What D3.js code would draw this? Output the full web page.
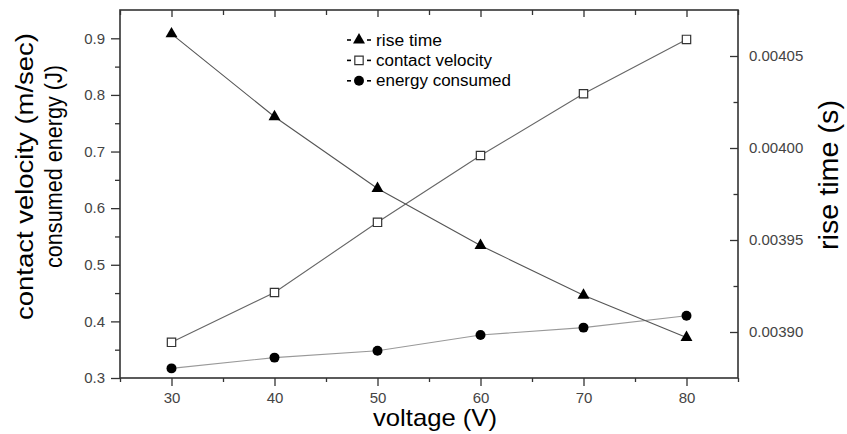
<!DOCTYPE html>
<html>
  <head>
    <title>Rise time, contact velocity and energy vs voltage</title>
    <script src="https://d3js.org/d3.v7.min.js"></script>
    <style>
      body { margin: 0; background: #fff; }
      svg { font-family: "Liberation Sans", Arial, sans-serif; }
      .tick text { fill: #444; font-size: 15px; }
      .tick line { stroke: #333; stroke-width: 1.3; }
    </style>
  </head>
  <body>
    <div id="chart"></div>
    <script>
      // data
      var voltage = [30, 40, 50, 60, 70, 80];
      var riseTime = [0.004062, 0.004017, 0.003978, 0.003947, 0.003920, 0.003897];
      var contactVelocity = [0.363, 0.451, 0.575, 0.693, 0.802, 0.898];
      var energyConsumed = [0.317, 0.336, 0.348, 0.376, 0.389, 0.410];

      var xTicks = [30, 40, 50, 60, 70, 80];
      var xMinor = [25, 35, 45, 55, 65, 75, 85];
      var leftTicks = [0.3, 0.4, 0.5, 0.6, 0.7, 0.8, 0.9];
      var leftMinor = [0.35, 0.45, 0.55, 0.65, 0.75, 0.85];
      var rightTicks = [0.00390, 0.00395, 0.00400, 0.00405];
      var rightMinor = [0.003925, 0.003975, 0.004025];
      var legendLabels = ["rise time", "contact velocity", "energy consumed"];

      var width = 847, height = 434;
      var plotLeft = 120, plotRight = 738, plotTop = 10, plotBottom = 378;

      var svg = d3.select("#chart")
        .append("svg")
        .attr("width", width)
        .attr("height", height);

      var x = d3.scaleLinear().domain([25, 85]).range([plotLeft, plotRight]);
      var yL = d3.scaleLinear().domain([0.3, 0.95]).range([plotBottom, plotTop]);
      var yR = d3.scaleLinear().domain([0.003875, 0.004075]).range([plotBottom, plotTop]);

      function noDomain(g) { g.select(".domain").remove(); }

      // bottom axis
      svg.append("g")
        .attr("transform", "translate(0," + plotBottom + ")")
        .call(d3.axisBottom(x).tickValues(xTicks).tickSize(8).tickPadding(6).tickFormat(d3.format("d")))
        .call(noDomain);
      svg.append("g")
        .attr("transform", "translate(0," + plotBottom + ")")
        .call(d3.axisBottom(x).tickValues(xMinor).tickSize(4).tickFormat(""))
        .call(noDomain);

      // top axis, ticks inward
      svg.append("g")
        .attr("transform", "translate(0," + plotTop + ")")
        .call(d3.axisTop(x).tickValues(xTicks).tickSize(-7).tickFormat(""))
        .call(noDomain);
      svg.append("g")
        .attr("transform", "translate(0," + plotTop + ")")
        .call(d3.axisTop(x).tickValues(xMinor).tickSize(-5).tickFormat(""))
        .call(noDomain);

      // left axis
      svg.append("g")
        .attr("transform", "translate(" + plotLeft + ",0)")
        .call(d3.axisLeft(yL).tickValues(leftTicks).tickSize(9).tickPadding(6).tickFormat(d3.format(".1f")))
        .call(noDomain);
      svg.append("g")
        .attr("transform", "translate(" + plotLeft + ",0)")
        .call(d3.axisLeft(yL).tickValues(leftMinor).tickSize(5).tickFormat(""))
        .call(noDomain);

      // right axis, ticks inward, labels outside
      svg.append("g")
        .attr("transform", "translate(" + plotRight + ",0)")
        .call(d3.axisRight(yR).tickValues(rightTicks).tickSizeInner(-8).tickSizeOuter(0).tickPadding(11).tickFormat(d3.format(".5f")))
        .call(noDomain);
      svg.append("g")
        .attr("transform", "translate(" + plotRight + ",0)")
        .call(d3.axisRight(yR).tickValues(rightMinor).tickSizeInner(-4.5).tickSizeOuter(0).tickFormat(""))
        .call(noDomain);

      // frame
      svg.append("rect")
        .attr("x", plotLeft).attr("y", plotTop)
        .attr("width", plotRight - plotLeft).attr("height", plotBottom - plotTop)
        .attr("fill", "none")
        .attr("stroke", "#333")
        .attr("stroke-width", 1.6);

      // lines
      function drawLine(values, scale, color) {
        var line = d3.line()
          .x(function(d, i) { return x(voltage[i]); })
          .y(function(d) { return scale(d); });
        svg.append("path")
          .datum(values)
          .attr("d", line)
          .attr("fill", "none")
          .attr("stroke", color)
          .attr("stroke-width", 1.1);
      }
      drawLine(energyConsumed, yL, "#999");
      drawLine(contactVelocity, yL, "#666");
      drawLine(riseTime, yR, "#555");

      var triangle = d3.symbol().type(d3.symbolTriangle).size(62);
      var square = d3.symbol().type(d3.symbolSquare).size(70);
      var circle = d3.symbol().type(d3.symbolCircle).size(78);

      // markers
      svg.selectAll(".energy")
        .data(energyConsumed)
        .enter()
        .append("path")
        .attr("class", "energy")
        .attr("d", circle)
        .attr("transform", function(d, i) { return "translate(" + x(voltage[i]) + "," + yL(d) + ")"; })
        .attr("fill", "#000");

      svg.selectAll(".velocity")
        .data(contactVelocity)
        .enter()
        .append("path")
        .attr("class", "velocity")
        .attr("d", square)
        .attr("transform", function(d, i) { return "translate(" + x(voltage[i]) + "," + yL(d) + ")"; })
        .attr("fill", "#fff")
        .attr("stroke", "#333")
        .attr("stroke-width", 1.2);

      svg.selectAll(".rise")
        .data(riseTime)
        .enter()
        .append("path")
        .attr("class", "rise")
        .attr("d", triangle)
        .attr("transform", function(d, i) { return "translate(" + x(voltage[i]) + "," + yR(d) + ")"; })
        .attr("fill", "#000");

      // legend
      var legendSymbols = [triangle, square, circle];
      var legendWidths = [66, 116, 135];
      var legend = svg.append("g").attr("transform", "translate(359,40)");
      legendLabels.forEach(function(label, i) {
        var row = legend.append("g").attr("transform", "translate(0," + (i * 20.4) + ")");
        row.append("line").attr("x1", -12).attr("x2", -8).attr("stroke", "#000").attr("stroke-width", 1.6);
        row.append("line").attr("x1", 8).attr("x2", 12).attr("stroke", "#000").attr("stroke-width", 1.6);
        row.append("path")
          .attr("d", legendSymbols[i])
          .attr("fill", i === 1 ? "#fff" : "#000")
          .attr("stroke", i === 1 ? "#333" : "none")
          .attr("stroke-width", 1.2);
        row.append("text")
          .attr("x", 17)
          .attr("dy", "0.35em")
          .attr("font-size", 16)
          .attr("textLength", legendWidths[i])
          .attr("lengthAdjust", "spacingAndGlyphs")
          .attr("fill", "#000")
          .text(label);
      });

      // axis titles
      svg.append("text")
        .attr("x", 435).attr("y", 426)
        .attr("text-anchor", "middle")
        .attr("font-size", 24)
        .attr("textLength", 124)
        .attr("lengthAdjust", "spacingAndGlyphs")
        .text("voltage (V)");

      svg.append("text")
        .attr("transform", "translate(32.5,176.5) rotate(-90)")
        .attr("text-anchor", "middle")
        .attr("font-size", 23)
        .attr("textLength", 287)
        .attr("lengthAdjust", "spacingAndGlyphs")
        .text("contact velocity (m/sec)");

      svg.append("text")
        .attr("transform", "translate(61.5,166.5) rotate(-90)")
        .attr("text-anchor", "middle")
        .attr("font-size", 23)
        .attr("textLength", 203)
        .attr("lengthAdjust", "spacingAndGlyphs")
        .text("consumed energy (J)");

      svg.append("text")
        .attr("transform", "translate(838,175) rotate(-90)")
        .attr("text-anchor", "middle")
        .attr("font-size", 27)
        .attr("textLength", 150)
        .attr("lengthAdjust", "spacingAndGlyphs")
        .text("rise time (s)");
    </script>
  </body>
</html>
